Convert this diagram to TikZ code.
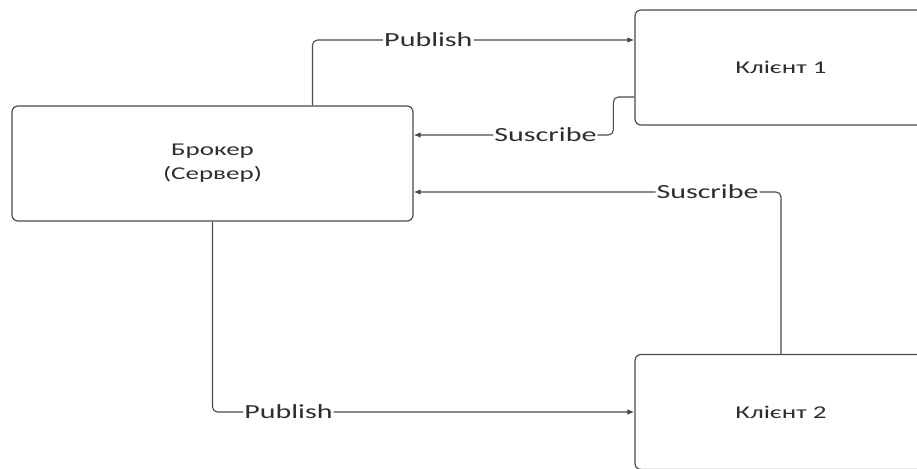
\documentclass[tikz,border=0pt]{standalone}
\usepackage{fontspec}
\usepackage{tikz}
\usetikzlibrary{arrows.meta}
\newfontfamily\diagfont[FakeStretch=1.5]{Carlito}
\definecolor{EdgeGray}{HTML}{4A4A4A}
\definecolor{TextGray}{HTML}{2E2E2E}

\begin{document}
\begin{tikzpicture}[
  x=1pt,y=-1pt,
  box/.style={draw=EdgeGray,fill=white,rounded corners=6pt,line width=1.2pt,minimum height=115pt,align=center,text=TextGray,font=\diagfont\fontsize{18}{24}\selectfont},
  lbl/.style={fill=white,inner sep=1pt,text=TextGray,font=\diagfont\fontsize{20}{24}\selectfont},
  arr/.style={-{Latex[length=7pt,width=5.5pt]},draw=EdgeGray,line width=1.1pt,rounded corners=5pt}
]
\useasboundingbox (0,0) rectangle (917,468);
\node[box,minimum width=401pt] (broker) at (212.5,163.5) {Брокер\\(Сервер)};
\node[box,minimum width=292pt] (client1) at (781,67.5) {Клієнт 1};
\node[box,minimum width=292pt] (client2) at (781,412) {Клієнт 2};
\draw[arr] ([xshift=100pt]broker.north) |- node[lbl,pos=0.68] {Publish} ([yshift=27.5pt]client1.west);
\draw[arr] ([yshift=-29.5pt]client1.west) -- ++(-21,0) |- node[lbl,pos=0.67] {Suscribe} ([yshift=28.5pt]broker.east);
\draw[arr] (client2.north) |- node[lbl,pos=0.6] {Suscribe} ([yshift=-28.5pt]broker.east);
\draw[arr] (broker.south) |- node[lbl,pos=0.59] {Publish} (client2.west);
\end{tikzpicture}
\end{document}
